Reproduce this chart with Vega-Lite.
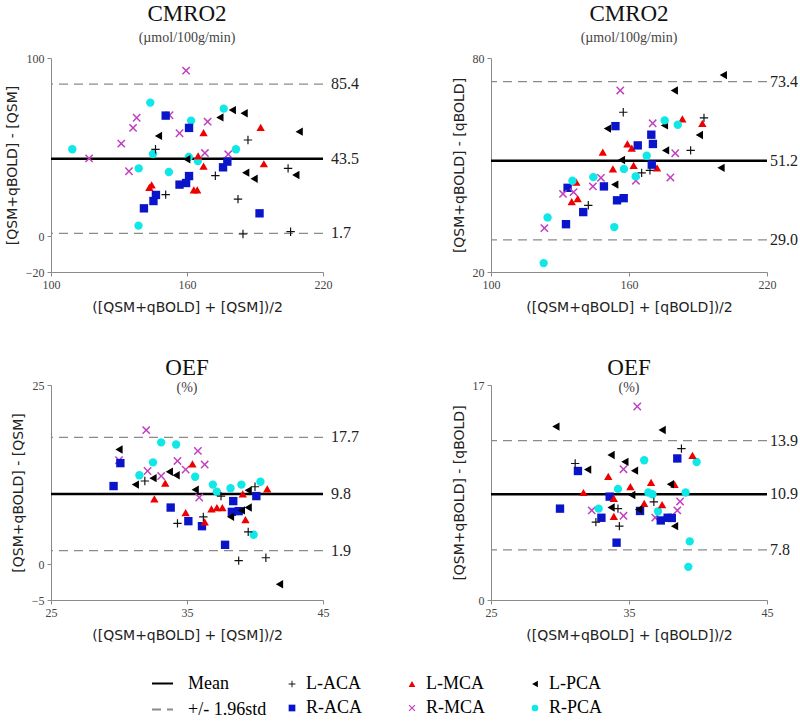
{
"$schema":"https://vega.github.io/schema/vega-lite/v6.json",
"background":"white",
"padding":{"left":5,"top":3,"right":0,"bottom":0},
"bounds":"flush",
"columns":2,
"spacing":{"row":113,"column":168},
"datasets":{
"l1":[{"kind":"Mean","value":43.5,"label":"43.5"},{"kind":"+/- 1.96std","value":85.4,"label":"85.4"},{"kind":"+/- 1.96std","value":1.7,"label":"1.7"}],
"l2":[{"kind":"Mean","value":51.2,"label":"51.2"},{"kind":"+/- 1.96std","value":73.4,"label":"73.4"},{"kind":"+/- 1.96std","value":29.0,"label":"29.0"}],
"l3":[{"kind":"Mean","value":9.8,"label":"9.8"},{"kind":"+/- 1.96std","value":17.7,"label":"17.7"},{"kind":"+/- 1.96std","value":1.9,"label":"1.9"}],
"l4":[{"kind":"Mean","value":10.9,"label":"10.9"},{"kind":"+/- 1.96std","value":13.9,"label":"13.9"},{"kind":"+/- 1.96std","value":7.8,"label":"7.8"}],
"p1":[
{"r":"R-PCA","x":109.4,"y":48.8},{"r":"R-PCA","x":143.8,"y":75.0},{"r":"R-PCA","x":161.8,"y":64.9},{"r":"R-PCA","x":145.0,"y":46.2},{"r":"R-PCA","x":138.7,"y":38.1},{"r":"R-PCA","x":152.0,"y":36.1},{"r":"R-PCA","x":176.2,"y":71.6},{"r":"R-PCA","x":181.6,"y":48.8},{"r":"R-PCA","x":160.8,"y":44.5},{"r":"R-PCA","x":164.8,"y":42.2},{"r":"R-PCA","x":138.6,"y":6.0},
{"r":"R-MCA","x":159.6,"y":92.9},{"r":"R-MCA","x":137.8,"y":66.5},{"r":"R-MCA","x":152.3,"y":67.9},{"r":"R-MCA","x":136.2,"y":60.8},{"r":"R-MCA","x":169.1,"y":64.3},{"r":"R-MCA","x":156.7,"y":57.8},{"r":"R-MCA","x":131.0,"y":52.0},{"r":"R-MCA","x":116.8,"y":43.7},{"r":"R-MCA","x":134.4,"y":36.5},{"r":"R-MCA","x":167.9,"y":46.7},{"r":"R-MCA","x":178.2,"y":46.0},
{"r":"R-ACA","x":150.6,"y":67.7},{"r":"R-ACA","x":160.9,"y":60.8},{"r":"R-ACA","x":177.8,"y":41.9},{"r":"R-ACA","x":175.9,"y":38.7},{"r":"R-ACA","x":160.9,"y":33.8},{"r":"R-ACA","x":159.6,"y":29.9},{"r":"R-ACA","x":156.7,"y":29.0},{"r":"R-ACA","x":146.3,"y":23.2},{"r":"R-ACA","x":145.2,"y":19.8},{"r":"R-ACA","x":141.0,"y":15.7},{"r":"R-ACA","x":192.0,"y":12.9},
{"r":"L-MCA","x":167.3,"y":58.1},{"r":"L-MCA","x":192.5,"y":61.1},{"r":"L-MCA","x":164.9,"y":45.1},{"r":"L-MCA","x":167.3,"y":39.4},{"r":"L-MCA","x":193.9,"y":40.7},{"r":"L-MCA","x":143.4,"y":27.5},{"r":"L-MCA","x":144.4,"y":28.8},{"r":"L-MCA","x":163.0,"y":26.0},{"r":"L-MCA","x":164.5,"y":26.0},
{"r":"L-PCA","x":180.0,"y":70.8},{"r":"L-PCA","x":185.2,"y":69.0},{"r":"L-PCA","x":174.5,"y":66.7},{"r":"L-PCA","x":147.4,"y":56.3},{"r":"L-PCA","x":209.5,"y":58.7},{"r":"L-PCA","x":159.9,"y":43.2},{"r":"L-PCA","x":185.9,"y":35.7},{"r":"L-PCA","x":189.6,"y":32.3},{"r":"L-PCA","x":208.0,"y":34.4},
{"r":"L-ACA","x":186.9,"y":54.0},{"r":"L-ACA","x":146.1,"y":48.8},{"r":"L-ACA","x":204.6,"y":38.1},{"r":"L-ACA","x":172.5,"y":34.0},{"r":"L-ACA","x":150.6,"y":23.4},{"r":"L-ACA","x":182.5,"y":20.9},{"r":"L-ACA","x":184.7,"y":1.3},{"r":"L-ACA","x":205.7,"y":2.6}
],
"p2":[
{"r":"L-PCA","x":201.0,"y":75.2},{"r":"L-PCA","x":179.7,"y":70.9},{"r":"L-PCA","x":150.6,"y":60.2},{"r":"L-PCA","x":175.4,"y":61.1},{"r":"L-PCA","x":190.6,"y":58.4},{"r":"L-PCA","x":175.9,"y":54.1},{"r":"L-PCA","x":156.7,"y":51.4},{"r":"L-PCA","x":200.0,"y":49.2},{"r":"L-PCA","x":153.8,"y":44.5},
{"r":"L-ACA","x":157.5,"y":64.8},{"r":"L-ACA","x":192.6,"y":63.2},{"r":"L-ACA","x":186.8,"y":54.1},{"r":"L-ACA","x":142.3,"y":38.7},{"r":"L-ACA","x":165.5,"y":47.8},{"r":"L-ACA","x":169.1,"y":48.5},
{"r":"L-MCA","x":183.2,"y":62.9},{"r":"L-MCA","x":191.9,"y":61.7},{"r":"L-MCA","x":159.3,"y":55.9},{"r":"L-MCA","x":161.2,"y":54.7},{"r":"L-MCA","x":148.6,"y":53.6},{"r":"L-MCA","x":162.0,"y":49.9},{"r":"L-MCA","x":153.0,"y":48.9},{"r":"L-MCA","x":172.2,"y":49.2},{"r":"L-MCA","x":137.1,"y":45.2},{"r":"L-MCA","x":137.7,"y":40.6},{"r":"L-MCA","x":135.1,"y":39.7},
{"r":"R-ACA","x":154.1,"y":60.9},{"r":"R-ACA","x":169.7,"y":58.5},{"r":"R-ACA","x":170.4,"y":55.9},{"r":"R-ACA","x":163.8,"y":55.5},{"r":"R-ACA","x":169.9,"y":50.1},{"r":"R-ACA","x":149.1,"y":44.0},{"r":"R-ACA","x":133.3,"y":43.6},{"r":"R-ACA","x":154.8,"y":40.1},{"r":"R-ACA","x":157.7,"y":40.7},{"r":"R-ACA","x":140.1,"y":36.8},{"r":"R-ACA","x":132.6,"y":33.4},
{"r":"R-MCA","x":156.2,"y":70.9},{"r":"R-MCA","x":170.3,"y":61.7},{"r":"R-MCA","x":180.1,"y":53.3},{"r":"R-MCA","x":147.8,"y":46.4},{"r":"R-MCA","x":144.3,"y":44.0},{"r":"R-MCA","x":163.0,"y":45.6},{"r":"R-MCA","x":178.0,"y":46.5},{"r":"R-MCA","x":135.9,"y":42.4},{"r":"R-MCA","x":131.3,"y":41.9},{"r":"R-MCA","x":123.2,"y":32.3},
{"r":"R-PCA","x":175.5,"y":62.5},{"r":"R-PCA","x":181.2,"y":61.3},{"r":"R-PCA","x":167.7,"y":52.6},{"r":"R-PCA","x":157.8,"y":48.9},{"r":"R-PCA","x":162.9,"y":46.8},{"r":"R-PCA","x":144.5,"y":46.6},{"r":"R-PCA","x":135.4,"y":45.6},{"r":"R-PCA","x":124.6,"y":35.3},{"r":"R-PCA","x":153.6,"y":32.6},{"r":"R-PCA","x":122.9,"y":22.5}
],
"p3":[
{"r":"R-MCA","x":32.0,"y":18.7},{"r":"R-MCA","x":35.8,"y":15.8},{"r":"R-MCA","x":30.0,"y":14.5},{"r":"R-MCA","x":34.3,"y":14.4},{"r":"R-MCA","x":36.3,"y":13.9},{"r":"R-MCA","x":32.1,"y":13.0},{"r":"R-MCA","x":34.9,"y":13.2},{"r":"R-MCA","x":33.1,"y":12.3},{"r":"R-MCA","x":35.9,"y":9.3},
{"r":"R-PCA","x":33.1,"y":17.0},{"r":"R-PCA","x":34.2,"y":16.7},{"r":"R-PCA","x":32.5,"y":14.2},{"r":"R-PCA","x":31.5,"y":12.4},{"r":"R-PCA","x":35.6,"y":12.2},{"r":"R-PCA","x":36.9,"y":11.1},{"r":"R-PCA","x":37.2,"y":10.1},{"r":"R-PCA","x":38.2,"y":10.6},{"r":"R-PCA","x":39.0,"y":11.1},{"r":"R-PCA","x":40.4,"y":11.5},{"r":"R-PCA","x":39.9,"y":4.1},
{"r":"R-ACA","x":30.1,"y":14.1},{"r":"R-ACA","x":29.6,"y":10.9},{"r":"R-ACA","x":33.8,"y":7.9},{"r":"R-ACA","x":35.1,"y":6.0},{"r":"R-ACA","x":36.1,"y":5.3},{"r":"R-ACA","x":38.4,"y":8.8},{"r":"R-ACA","x":38.3,"y":7.3},{"r":"R-ACA","x":38.8,"y":7.4},{"r":"R-ACA","x":40.1,"y":9.5},{"r":"R-ACA","x":37.8,"y":2.7},
{"r":"L-MCA","x":35.4,"y":14.0},{"r":"L-MCA","x":33.4,"y":11.3},{"r":"L-MCA","x":32.6,"y":9.1},{"r":"L-MCA","x":34.9,"y":7.2},{"r":"L-MCA","x":36.3,"y":5.9},{"r":"L-MCA","x":36.8,"y":7.7},{"r":"L-MCA","x":37.2,"y":7.9},{"r":"L-MCA","x":37.6,"y":7.9},{"r":"L-MCA","x":39.1,"y":9.8},{"r":"L-MCA","x":39.3,"y":6.2},{"r":"L-MCA","x":40.9,"y":10.5},
{"r":"L-PCA","x":30.0,"y":16.0},{"r":"L-PCA","x":31.2,"y":11.1},{"r":"L-PCA","x":32.5,"y":12.0},{"r":"L-PCA","x":33.7,"y":12.9},{"r":"L-PCA","x":34.2,"y":12.4},{"r":"L-PCA","x":35.6,"y":10.4},{"r":"L-PCA","x":38.2,"y":6.6},{"r":"L-PCA","x":39.0,"y":7.5},{"r":"L-PCA","x":39.5,"y":7.9},{"r":"L-PCA","x":41.8,"y":-2.8},{"r":"L-PCA","x":39.5,"y":10.3},
{"r":"L-ACA","x":31.9,"y":11.6},{"r":"L-ACA","x":34.3,"y":5.7},{"r":"L-ACA","x":36.2,"y":6.6},{"r":"L-ACA","x":37.5,"y":9.5},{"r":"L-ACA","x":39.5,"y":4.5},{"r":"L-ACA","x":38.8,"y":0.5},{"r":"L-ACA","x":40.8,"y":0.9},{"r":"L-ACA","x":40.0,"y":10.8}
],
"p4":[
{"r":"R-MCA","x":35.6,"y":15.8},{"r":"R-MCA","x":34.6,"y":12.3},{"r":"R-MCA","x":38.7,"y":10.5},{"r":"R-MCA","x":38.5,"y":10.0},{"r":"R-MCA","x":34.6,"y":9.7},{"r":"R-MCA","x":32.3,"y":10.0},{"r":"R-MCA","x":36.9,"y":9.6},
{"r":"R-PCA","x":36.1,"y":12.8},{"r":"R-PCA","x":39.9,"y":12.7},{"r":"R-PCA","x":34.2,"y":11.2},{"r":"R-PCA","x":36.4,"y":11.0},{"r":"R-PCA","x":36.7,"y":10.9},{"r":"R-PCA","x":39.1,"y":11.0},{"r":"R-PCA","x":32.8,"y":10.1},{"r":"R-PCA","x":37.1,"y":9.95},{"r":"R-PCA","x":39.4,"y":8.27},{"r":"R-PCA","x":39.3,"y":6.85},
{"r":"R-ACA","x":38.5,"y":12.9},{"r":"R-ACA","x":31.3,"y":12.2},{"r":"R-ACA","x":33.6,"y":10.77},{"r":"R-ACA","x":35.8,"y":9.97},{"r":"R-ACA","x":37.3,"y":9.44},{"r":"R-ACA","x":37.8,"y":9.59},{"r":"R-ACA","x":38.1,"y":9.58},{"r":"R-ACA","x":33.0,"y":9.59},{"r":"R-ACA","x":30.0,"y":10.1},{"r":"R-ACA","x":34.1,"y":8.2},
{"r":"L-MCA","x":39.6,"y":13.07},{"r":"L-MCA","x":33.5,"y":11.9},{"r":"L-MCA","x":35.1,"y":11.33},{"r":"L-MCA","x":36.6,"y":11.56},{"r":"L-MCA","x":38.3,"y":11.46},{"r":"L-MCA","x":31.7,"y":11.0},{"r":"L-MCA","x":33.9,"y":10.67},{"r":"L-MCA","x":36.1,"y":10.39},{"r":"L-MCA","x":37.4,"y":10.33},{"r":"L-MCA","x":33.9,"y":9.67},
{"r":"L-PCA","x":29.7,"y":14.68},{"r":"L-PCA","x":37.4,"y":14.49},{"r":"L-PCA","x":33.7,"y":13.09},{"r":"L-PCA","x":34.7,"y":12.71},{"r":"L-PCA","x":32.0,"y":12.28},{"r":"L-PCA","x":35.4,"y":12.22},{"r":"L-PCA","x":38.0,"y":11.46},{"r":"L-PCA","x":35.2,"y":10.86},{"r":"L-PCA","x":35.7,"y":10.05},{"r":"L-PCA","x":33.7,"y":10.16},{"r":"L-PCA","x":38.3,"y":9.12},
{"r":"L-ACA","x":38.8,"y":13.45},{"r":"L-ACA","x":31.1,"y":12.62},{"r":"L-ACA","x":36.8,"y":10.48},{"r":"L-ACA","x":34.2,"y":10.1},{"r":"L-ACA","x":32.6,"y":9.35},{"r":"L-ACA","x":34.3,"y":9.12}
]
},
"concat":[
{
"width":272,"height":214,
"title":{"text":"CMRO2","subtitle":"(µmol/100g/min)","offset":7},
"layer":[
{"data":{"name":"l1"},"transform":[{"filter":"datum.kind !== 'Mean'"}],"mark":{"type":"rule","strokeWidth":1.3},
 "encoding":{"y":{"field":"value","type":"quantitative","scale":{"domain":[-20,100],"zero":false,"nice":false},"title":"[QSM+qBOLD] - [QSM]","axis":{"values":[-20,0,100]}},
  "stroke":{"field":"kind","type":"nominal","scale":{"domain":["Mean","+/- 1.96std"],"range":["#000000","#8a8a8a"]},"legend":{"title":null,"orient":"none","legendX":100,"legendY":614,"symbolType":"stroke","symbolSize":441,"symbolStrokeWidth":2,"labelFont":"Liberation Serif","labelFontSize":18,"rowPadding":5,"labelOffset":14}},
  "strokeDash":{"field":"kind","type":"nominal","scale":{"domain":["Mean","+/- 1.96std"],"range":[[1,0],[9,6]]},"legend":{"title":null,"orient":"none","legendX":100,"legendY":614,"symbolType":"stroke","symbolSize":441,"symbolStrokeWidth":2,"labelFont":"Liberation Serif","labelFontSize":18,"rowPadding":5,"labelOffset":14}}}},
{"data":{"name":"l1"},"transform":[{"filter":"datum.kind === 'Mean'"}],"mark":{"type":"rule","strokeWidth":2.6},
 "encoding":{"y":{"field":"value","type":"quantitative","title":"[QSM+qBOLD] - [QSM]"},"stroke":{"field":"kind","type":"nominal"},"strokeDash":{"field":"kind","type":"nominal"}}},
{"data":{"name":"l1"},"mark":{"type":"text","align":"left","baseline":"middle","dx":8,"font":"Liberation Serif","fontSize":16,"color":"#222"},
 "encoding":{"x":{"datum":220,"type":"quantitative","scale":{"domain":[100,220],"zero":false,"nice":false}},"y":{"field":"value","type":"quantitative","title":"[QSM+qBOLD] - [QSM]"},"text":{"field":"label"}}},
{"data":{"name":"p1"},"mark":{"type":"point","filled":true,"size":70,"opacity":1},
 "encoding":{"x":{"field":"x","type":"quantitative","scale":{"domain":[100,220],"zero":false,"nice":false},"title":"([QSM+qBOLD] + [QSM])/2","axis":{"values":[100,160,220]}},
  "y":{"field":"y","type":"quantitative","title":"[QSM+qBOLD] - [QSM]"},
  "color":{"field":"r","type":"nominal","scale":{"domain":["L-ACA","L-MCA","L-PCA","R-ACA","R-MCA","R-PCA"],"range":["#111111","#ee0000","#000000","#0a14c8","#c040c0","#10e8e8"]},"legend":{"title":null,"orient":"none","legendX":232,"legendY":617,"columns":3,"direction":"horizontal","columnPadding":40,"rowPadding":6,"symbolSize":45,"labelFont":"Liberation Serif","labelFontSize":18,"gridAlign":"each","labelOffset":5}},
  "shape":{"field":"r","type":"nominal","scale":{"domain":["L-ACA","L-MCA","L-PCA","R-ACA","R-MCA","R-PCA"],"range":["M-0.14,-1H0.14V-0.14H1V0.14H0.14V1H-0.14V0.14H-1V-0.14H-0.14Z","triangle-up","triangle-left","square","M-0.75,-1L0,-0.25L0.75,-1L1,-0.75L0.25,0L1,0.75L0.75,1L0,0.25L-0.75,1L-1,0.75L-0.25,0L-1,-0.75Z","circle"]},"legend":{"title":null,"orient":"none","legendX":232,"legendY":617,"columns":3,"direction":"horizontal","columnPadding":40,"rowPadding":6,"symbolSize":45,"labelFont":"Liberation Serif","labelFontSize":18,"gridAlign":"each","labelOffset":5}}}}
]},
{
"width":276,"height":214,
"title":{"text":"CMRO2","subtitle":"(µmol/100g/min)","offset":7},
"layer":[
{"data":{"name":"l2"},"transform":[{"filter":"datum.kind !== 'Mean'"}],"mark":{"type":"rule","strokeWidth":1.3},
 "encoding":{"y":{"field":"value","type":"quantitative","scale":{"domain":[20,80],"zero":false,"nice":false},"title":"[QSM+qBOLD] - [qBOLD]","axis":{"values":[20,80]}},"stroke":{"field":"kind","type":"nominal"},"strokeDash":{"field":"kind","type":"nominal"}}},
{"data":{"name":"l2"},"transform":[{"filter":"datum.kind === 'Mean'"}],"mark":{"type":"rule","strokeWidth":2.6},
 "encoding":{"y":{"field":"value","type":"quantitative","title":"[QSM+qBOLD] - [qBOLD]"},"stroke":{"field":"kind","type":"nominal"},"strokeDash":{"field":"kind","type":"nominal"}}},
{"data":{"name":"l2"},"mark":{"type":"text","align":"left","baseline":"middle","dx":3,"font":"Liberation Serif","fontSize":16,"color":"#222"},
 "encoding":{"x":{"datum":220,"type":"quantitative","scale":{"domain":[100,220],"zero":false,"nice":false}},"y":{"field":"value","type":"quantitative","title":"[QSM+qBOLD] - [qBOLD]"},"text":{"field":"label"}}},
{"data":{"name":"p2"},"mark":{"type":"point","filled":true,"size":70,"opacity":1},
 "encoding":{"x":{"field":"x","type":"quantitative","scale":{"domain":[100,220],"zero":false,"nice":false},"title":"([QSM+qBOLD] + [qBOLD])/2","axis":{"values":[100,160,220]}},
  "y":{"field":"y","type":"quantitative","title":"[QSM+qBOLD] - [qBOLD]"},
  "color":{"field":"r","type":"nominal"},"shape":{"field":"r","type":"nominal"}}}
]},
{
"width":272,"height":215,
"title":{"text":"OEF","subtitle":"(%)","offset":-16,"subtitlePadding":1},
"layer":[
{"data":{"name":"l3"},"transform":[{"filter":"datum.kind !== 'Mean'"}],"mark":{"type":"rule","strokeWidth":1.3},
 "encoding":{"y":{"field":"value","type":"quantitative","scale":{"domain":[-5,25],"zero":false,"nice":false},"title":"[QSM+qBOLD] - [QSM]","axis":{"values":[-5,0,25]}},"stroke":{"field":"kind","type":"nominal"},"strokeDash":{"field":"kind","type":"nominal"}}},
{"data":{"name":"l3"},"transform":[{"filter":"datum.kind === 'Mean'"}],"mark":{"type":"rule","strokeWidth":2.6},
 "encoding":{"y":{"field":"value","type":"quantitative","title":"[QSM+qBOLD] - [QSM]"},"stroke":{"field":"kind","type":"nominal"},"strokeDash":{"field":"kind","type":"nominal"}}},
{"data":{"name":"l3"},"mark":{"type":"text","align":"left","baseline":"middle","dx":8,"font":"Liberation Serif","fontSize":16,"color":"#222"},
 "encoding":{"x":{"datum":45,"type":"quantitative","scale":{"domain":[25,45],"zero":false,"nice":false}},"y":{"field":"value","type":"quantitative","title":"[QSM+qBOLD] - [QSM]"},"text":{"field":"label"}}},
{"data":{"name":"p3"},"mark":{"type":"point","filled":true,"size":70,"opacity":1},
 "encoding":{"x":{"field":"x","type":"quantitative","scale":{"domain":[25,45],"zero":false,"nice":false},"title":"([QSM+qBOLD] + [QSM])/2","axis":{"values":[25,35,45]}},
  "y":{"field":"y","type":"quantitative","title":"[QSM+qBOLD] - [QSM]"},
  "color":{"field":"r","type":"nominal"},"shape":{"field":"r","type":"nominal"}}}
]},
{
"width":276,"height":215,
"title":{"text":"OEF","subtitle":"(%)","offset":-16,"subtitlePadding":1},
"layer":[
{"data":{"name":"l4"},"transform":[{"filter":"datum.kind !== 'Mean'"}],"mark":{"type":"rule","strokeWidth":1.3},
 "encoding":{"y":{"field":"value","type":"quantitative","scale":{"domain":[5,17],"zero":false,"nice":false},"title":"[QSM+qBOLD] - [qBOLD]","axis":{"values":[5,17],"labelExpr":"datum.value == 5 ? '0' : datum.label"}},"stroke":{"field":"kind","type":"nominal"},"strokeDash":{"field":"kind","type":"nominal"}}},
{"data":{"name":"l4"},"transform":[{"filter":"datum.kind === 'Mean'"}],"mark":{"type":"rule","strokeWidth":2.6},
 "encoding":{"y":{"field":"value","type":"quantitative","title":"[QSM+qBOLD] - [qBOLD]"},"stroke":{"field":"kind","type":"nominal"},"strokeDash":{"field":"kind","type":"nominal"}}},
{"data":{"name":"l4"},"mark":{"type":"text","align":"left","baseline":"middle","dx":3,"font":"Liberation Serif","fontSize":16,"color":"#222"},
 "encoding":{"x":{"datum":45,"type":"quantitative","scale":{"domain":[25,45],"zero":false,"nice":false}},"y":{"field":"value","type":"quantitative","title":"[QSM+qBOLD] - [qBOLD]"},"text":{"field":"label"}}},
{"data":{"name":"p4"},"mark":{"type":"point","filled":true,"size":70,"opacity":1},
 "encoding":{"x":{"field":"x","type":"quantitative","scale":{"domain":[25,45],"zero":false,"nice":false},"title":"([QSM+qBOLD] + [qBOLD])/2","axis":{"values":[25,35,45]}},
  "y":{"field":"y","type":"quantitative","title":"[QSM+qBOLD] - [qBOLD]"},
  "color":{"field":"r","type":"nominal"},"shape":{"field":"r","type":"nominal"}}}
]}
],
"resolve":{"scale":{"x":"independent","y":"independent"}},
"config":{
"view":{"stroke":null},
"axis":{"grid":false,"domainColor":"#8a8a8a","tickColor":"#8a8a8a","tickSize":4,"labelFont":"Liberation Serif","labelFontSize":12,"labelColor":"#444","labelFlush":false,"labelOverlap":false,"labelPadding":3,"titleFont":"DejaVu Sans","titleFontSize":14,"titleFontWeight":"normal","titleColor":"#222"},
"axisX":{"titlePadding":10},
"axisY":{"titlePadding":6},
"title":{"font":"Liberation Serif","fontSize":23,"fontWeight":"normal","color":"#111","subtitleFont":"Liberation Serif","subtitleFontSize":14,"subtitleColor":"#444","subtitlePadding":5,"anchor":"middle"},
"legend":{"padding":0}
}
}
